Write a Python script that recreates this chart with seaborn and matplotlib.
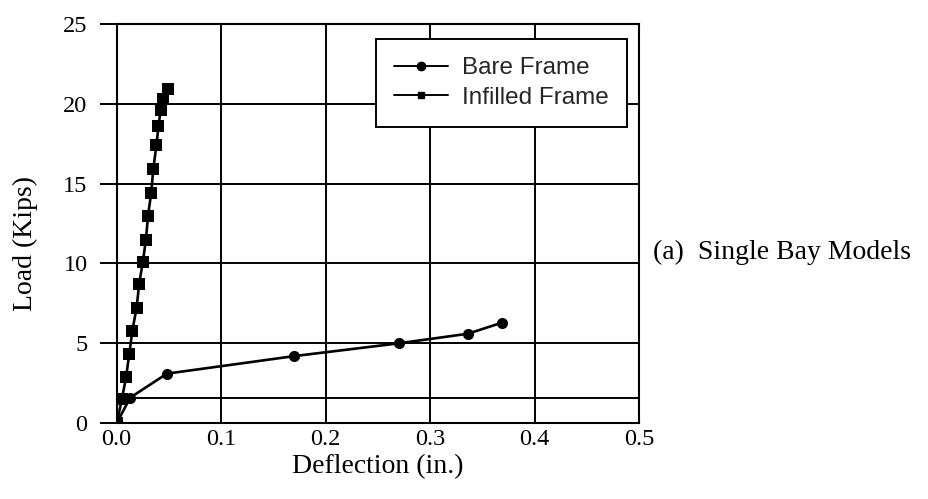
import matplotlib
matplotlib.use("Agg")
import matplotlib.pyplot as plt
import seaborn as sns
import pandas as pd
from matplotlib.lines import Line2D

# ---- data ----
bare_x = [0.0, 0.013, 0.048, 0.170, 0.270, 0.336, 0.369]
bare_y = [0.0, 1.6, 3.1, 4.2, 5.0, 5.6, 6.3]

infill_x = [0.0, 0.005, 0.009, 0.012, 0.015, 0.019, 0.0215, 0.025, 0.028,
            0.030, 0.033, 0.035, 0.038, 0.040, 0.042, 0.044, 0.049]
infill_y = [0.0, 1.5, 2.9, 4.3, 5.8, 7.2, 8.7, 10.1, 11.5,
            13.0, 14.4, 15.9, 17.4, 18.6, 19.6, 20.3, 20.9]

series_names = ["Bare Frame", "Infilled Frame"]
x_ticks = [0.0, 0.1, 0.2, 0.3, 0.4, 0.5]
x_tick_labels = ["0.0", "0.1", "0.2", "0.3", "0.4", "0.5"]
y_ticks = [0, 5, 10, 15, 20, 25]
ref_line_y = 1.6
x_label = "Deflection (in.)"
y_label = "Load (Kips)"
side_note = "(a)  Single Bay Models"

df = pd.concat([
    pd.DataFrame({"x": bare_x, "y": bare_y, "series": series_names[0]}),
    pd.DataFrame({"x": infill_x, "y": infill_y, "series": series_names[1]}),
], ignore_index=True)

sns.set_theme(style="white")
plt.rcParams["font.family"] = ["Liberation Serif", "DejaVu Serif"]

fig = plt.figure(figsize=(9.29, 4.99), dpi=100)
ax = fig.add_axes([0.1256, 0.152, 0.5625, 0.800])

sns.lineplot(data=df, x="x", y="y", hue="series", style="series",
             palette=["black", "black"], markers=["o", "s"], dashes=False,
             sort=False, linewidth=1.9, markersize=8, markeredgewidth=0,
             ax=ax, legend=False)

ax.set_xlim(0, 0.5)
ax.set_ylim(0, 25)
ax.set_xticks(x_ticks)
ax.set_xticklabels(x_tick_labels)
ax.set_yticks(y_ticks)

ax.grid(True, color="black", linewidth=1.4)
ax.axhline(ref_line_y, color="black", linewidth=1.4)
for s in ax.spines.values():
    s.set_color("black")
    s.set_linewidth(1.5)

ax.tick_params(axis="y", direction="out", length=12, width=1.4, color="black",
               pad=9, labelsize=17.5, left=True)
ax.tick_params(axis="x", length=0, pad=4, labelsize=17.5)
for lab in ax.get_xticklabels() + ax.get_yticklabels():
    lab.set_color("black")

ax.set_xlabel(x_label, fontsize=20, color="black", labelpad=3)
ax.set_ylabel(y_label, fontsize=20, color="black")
ax.yaxis.set_label_coords(-0.15, 0.45)

fig.text(0.703, 0.495, side_note, fontsize=20, color="black",
         ha="left", va="center")

handles = [Line2D([], [], color="black", marker="o", markersize=6, lw=1.4),
           Line2D([], [], color="black", marker="s", markersize=5, lw=1.4)]
leg = ax.legend(handles, series_names, loc="upper left",
                bbox_to_anchor=(0.496, 0.962), frameon=True, fancybox=False,
                prop={"family": "Liberation Sans", "size": 17.5},
                handlelength=2.2, handletextpad=0.6, borderpad=0.75,
                labelspacing=0.3, borderaxespad=0)
leg.get_frame().set_edgecolor("black")
leg.get_frame().set_linewidth(1.4)
leg.get_frame().set_alpha(1)

fig.savefig("out.png", dpi=100, facecolor="white")
